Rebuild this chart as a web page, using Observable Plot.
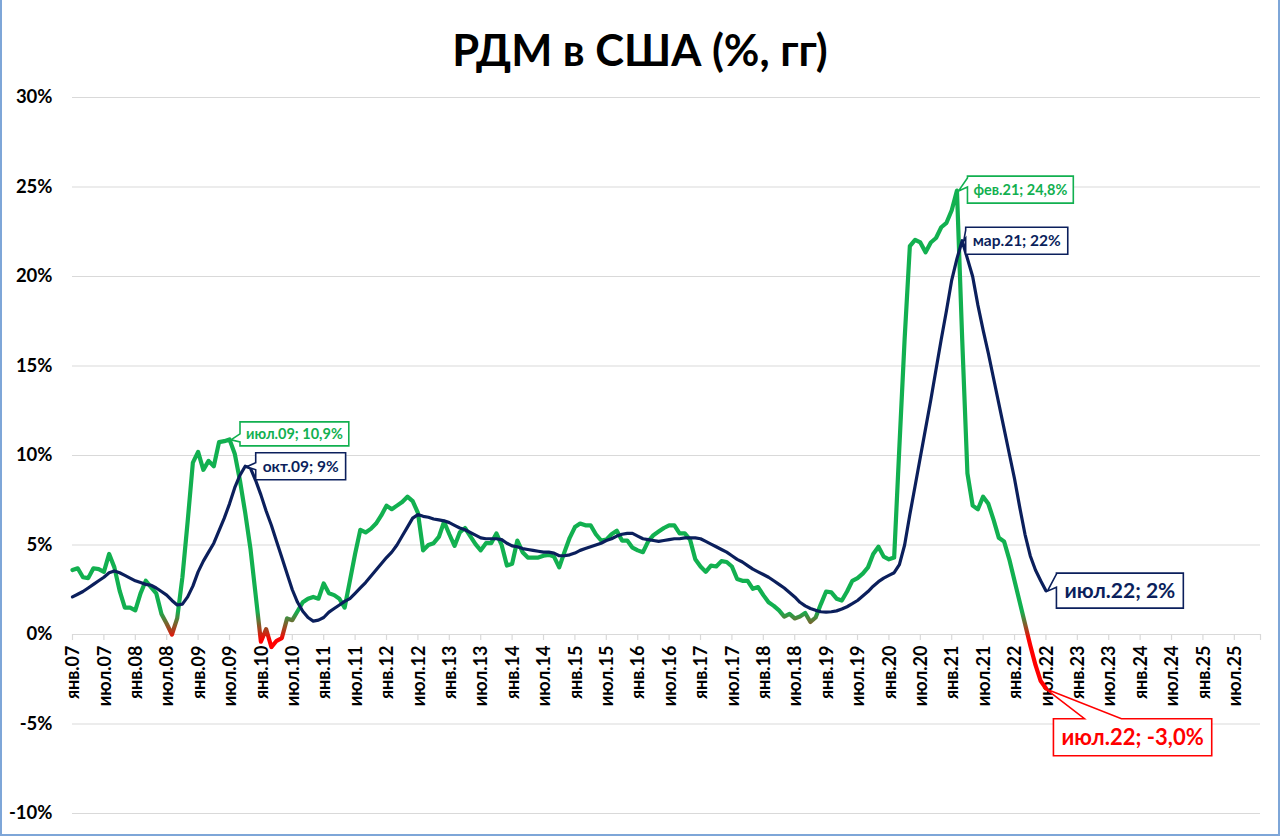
<!DOCTYPE html>
<html>
<head>
<meta charset="utf-8">
<script src="https://cdn.jsdelivr.net/npm/d3@7"></script>
<script src="https://cdn.jsdelivr.net/npm/@observablehq/plot@0.6"></script>
<style>
  html, body { margin: 0; padding: 0; background: #fff; }
  #chart {
    position: relative; width: 1280px; height: 836px; box-sizing: border-box;
    border: 2px solid #7ea6d8; border-top: none; background: #fff; overflow: hidden;
    font-family: Lato, "Open Sans", sans-serif;
  }
  #title {
    height: 80px; overflow: visible; text-align: center;
    font: bold 43.5px Lato, "Open Sans", sans-serif; line-height: 98px; color: #000;
  }
  #plot svg { display: block; }
</style>
</head>
<body>
<div id="chart">
  <div id="title">РДМ в США (%, гг)</div>
  <div id="plot"></div>
</div>
<script>
// ---- Data (monthly, starting янв.07) ----
const startYear = 2007;
const monthNames = ["янв","фев","мар","апр","май","июн","июл","авг","сен","окт","ноя","дек"];

// Green: M2 growth, % y/y (янв.07 … июл.22)
const m2Growth = [
  3.6, 3.7, 3.2, 3.15, 3.7, 3.65, 3.5, 4.5, 3.75, 2.45, 1.5, 1.5,
  1.35, 2.3, 3.0, 2.65, 2.3, 1.15, 0.6, 0.0, 0.9, 3.2, 6.3, 9.6,
  10.2, 9.2, 9.7, 9.4, 10.75, 10.8, 10.9, 10.1, 8.6, 6.8, 4.8, 2.2,
  -0.4, 0.3, -0.7, -0.35, -0.2, 0.9, 0.8, 1.3, 1.8, 2.0, 2.1, 2.0,
  2.85, 2.3, 2.2, 2.0, 1.5, 3.0, 4.5, 5.85, 5.7, 5.9, 6.2, 6.65,
  7.2, 7.0, 7.2, 7.4, 7.7, 7.45, 6.8, 4.7, 5.0, 5.1, 5.45, 6.3,
  5.6, 4.95, 5.7, 5.95, 5.5, 5.05, 4.7, 5.1, 5.1, 5.65, 5.0, 3.85,
  3.95, 5.25, 4.6, 4.3, 4.3, 4.3, 4.4, 4.45, 4.35, 3.75, 4.6, 5.4,
  6.0, 6.2, 6.1, 6.1, 5.6, 5.25, 5.3, 5.6, 5.8, 5.25, 5.25, 4.85,
  4.7, 4.6, 5.2, 5.55, 5.75, 5.95, 6.1, 6.1, 5.65, 5.65, 5.3, 4.2,
  3.8, 3.5, 3.85, 3.8, 4.1, 4.05, 3.8, 3.1, 3.0, 3.0, 2.55, 2.65,
  2.2, 1.8, 1.6, 1.35, 1.0, 1.15, 0.9, 1.0, 1.2, 0.7, 0.95, 1.7,
  2.4, 2.35, 2.0, 1.9, 2.4, 3.0, 3.15, 3.4, 3.75, 4.5, 4.9, 4.35,
  4.2, 4.3, 10.5, 16.5, 21.7, 22.05, 21.9, 21.35, 21.9, 22.15, 22.75, 23.0,
  23.7, 24.8, 16.5, 9.0, 7.2, 7.0, 7.7, 7.3, 6.4, 5.4, 5.2, 4.2,
  3.0, 1.8, 0.6, -0.6, -1.7, -2.6, -3.0
];

// Navy: smoothed M2 growth, %
const m2Smoothed = [
  2.1, 2.25, 2.4, 2.6, 2.8, 3.0, 3.2, 3.45, 3.55, 3.45, 3.3, 3.15,
  3.0, 2.9, 2.8, 2.75, 2.6, 2.4, 2.2, 1.9, 1.65, 1.7, 2.1, 2.7,
  3.5, 4.1, 4.6, 5.1, 5.8, 6.5, 7.3, 8.2, 8.9, 9.4, 9.3, 8.6,
  7.8, 6.9, 6.1, 5.2, 4.3, 3.4, 2.5, 1.8, 1.3, 0.95, 0.75, 0.8,
  0.95, 1.25, 1.45, 1.65, 1.85, 2.0, 2.3, 2.6, 2.9, 3.25, 3.6, 3.95,
  4.3, 4.6, 5.0, 5.5, 6.0, 6.5, 6.7, 6.6, 6.55, 6.45, 6.4, 6.35,
  6.25, 6.1, 5.95, 5.85, 5.7, 5.55, 5.4, 5.35, 5.35, 5.35, 5.3, 5.1,
  4.95, 4.9, 4.8, 4.75, 4.7, 4.65, 4.6, 4.6, 4.55, 4.4, 4.4, 4.45,
  4.55, 4.7, 4.8, 4.9, 5.0, 5.1, 5.25, 5.35, 5.5, 5.6, 5.65, 5.65,
  5.5, 5.35, 5.3, 5.25, 5.2, 5.25, 5.3, 5.35, 5.35, 5.4, 5.4, 5.4,
  5.35, 5.2, 5.05, 4.9, 4.75, 4.6, 4.4, 4.2, 4.05, 3.85, 3.65, 3.5,
  3.35, 3.2, 3.0, 2.8, 2.6, 2.35, 2.1, 1.8, 1.6, 1.45, 1.35, 1.27,
  1.25, 1.27, 1.32, 1.42, 1.55, 1.72, 1.9, 2.15, 2.4, 2.7, 2.95, 3.15,
  3.3, 3.45, 3.9, 5.0, 6.7, 8.3, 9.9, 11.5, 13.1, 14.8, 16.5, 18.1,
  19.8, 21.0, 22.0, 21.0, 20.0, 18.4, 17.0, 15.7, 14.3, 12.9, 11.5, 10.1,
  8.7, 7.1, 5.6, 4.4, 3.6, 3.0, 2.45
];

const axisMonths = 228;              // янв.07 … дек.25 on the category axis
const yTicks = [-10, -5, 0, 5, 10, 15, 20, 25, 30];

// Callout labels: month index, value, text, series
const callouts = [
  {m: 30,  v: 10.9, text: "июл.09; 10,9%", kind: "green"},
  {m: 33,  v: 9.4,  text: "окт.09; 9%",    kind: "navy"},
  {m: 169, v: 24.8, text: "фев.21; 24,8%", kind: "green"},
  {m: 170, v: 22.0, text: "мар.21; 22%",   kind: "navy"},
  {m: 186, v: 2.45, text: "июл.22; 2%",    kind: "navyBig"},
  {m: 186, v: -3.0, text: "июл.22; -3,0%", kind: "red"}
];

// ---- Styles ----
const GREEN = "#12b050", NAVY = "#0b1f5c", RED = "#ff0000";
const FONT = "Lato, 'Open Sans', sans-serif";
const calloutStyle = {
  green:   {color: GREEN, size: 14.5, bx: 11, by: -17, h: 24, wedge: "left", w1: 12, w2: 20, pad: 6},
  navy:    {color: NAVY,  size: 15.5, bx: 11, by: -13, h: 27, wedge: "left", w1: 10, w2: 17, pad: 7},
  navyBig: {color: NAVY,  size: 21,   bx: 11, by: -17, h: 35, wedge: "left", w1: 1,  w2: 14, pad: 8},
  red:     {color: RED,   size: 22,   bx: 8,  by: 31,  h: 37, wedge: "top",  w1: 31, w2: 68, pad: 8}
};
const calloutOverride = { "фев.21; 24,8%": {by: -14, h: 27, w1: 2, w2: 11}, "мар.21; 22%": {bx: 4, w1: 3, w2: 11} };

const series1 = m2Growth.map((v, i) => ({m: i, v}));
const series2 = m2Smoothed.map((v, i) => ({m: i, v}));
const xTicks = d3.range(0, axisMonths - 5, 6);
const fmtMonth = (i) => monthNames[i % 12] + "." + String((startYear + Math.floor(i / 12)) % 100).padStart(2, "0");

const measureCtx = document.createElement("canvas").getContext("2d");

const gradientDefs = (index, {y}) => {
  const defs = d3.create("svg:defs");
  const lg = defs.append("linearGradient").attr("id", "m2grad")
    .attr("gradientUnits", "userSpaceOnUse")
    .attr("x1", 0).attr("x2", 0).attr("y1", y(1.3)).attr("y2", y(-0.3));
  lg.append("stop").attr("offset", "0%").attr("stop-color", GREEN);
  lg.append("stop").attr("offset", "100%").attr("stop-color", RED);
  return defs.node();
};

const calloutMark = (index, {x, y}) => {
  const g = d3.create("svg:g");
  for (const c of callouts) {
    const st = Object.assign({}, calloutStyle[c.kind], calloutOverride[c.text] || {});
    const px = x(c.m), py = y(c.v);
    measureCtx.font = `bold ${st.size}px ${FONT}`;
    const tw = measureCtx.measureText(c.text).width;
    const pad = st.pad;
    const L = px + st.bx, T = py + st.by, W = tw + 2 * pad, H = st.h, R = L + W, B = T + H;
    let pts;
    if (st.wedge === "left") {
      const ax = px + 2, ay = py + 1;
      pts = [[L, T], [R, T], [R, B], [L, B], [L, T + st.w2], [ax, ay], [L, T + st.w1]];
    } else {
      const ax = px, ay = py + 1;
      pts = [[L, T], [L + st.w1, T], [ax, ay], [L + st.w2, T], [R, T], [R, B], [L, B]];
    }
    g.append("path").attr("d", "M" + pts.map(p => p.join(",")).join("L") + "Z")
      .attr("fill", "#fff").attr("stroke", st.color).attr("stroke-width", 1.6)
      .attr("stroke-linejoin", "miter");
    g.append("text").attr("x", L + pad).attr("y", T + H / 2)
      .attr("dy", "0.36em").attr("text-anchor", "start")
      .attr("fill", st.color).attr("font-family", FONT).attr("font-weight", "bold")
      .attr("font-size", st.size).text(c.text);
  }
  return g.node();
};

const plot = Plot.plot({
  width: 1276,
  height: 754,
  marginLeft: 70,
  marginRight: 18,
  marginTop: 17,
  marginBottom: 21,
  style: {fontFamily: FONT, background: "#fff", color: "#000"},
  x: {type: "linear", domain: [0, axisMonths - 1], axis: null},
  y: {domain: [-10, 30], axis: null},
  marks: [
    gradientDefs,
    Plot.ruleY(yTicks, {stroke: "#d9d9d9", strokeWidth: 1.2}),
    Plot.ruleX(xTicks.concat([axisMonths - 1]), {x: d => d, y1: 0, y2: 0, insetBottom: -6, stroke: "#d9d9d9", strokeWidth: 1.2}),
    Plot.text(yTicks, {y: d => d, text: d => d + "%", frameAnchor: "left", textAnchor: "end", dx: -20,
      fontSize: 18.5, fontWeight: "bold", fill: "#000"}),
    Plot.text(xTicks, {x: d => d, y: 0, text: fmtMonth, rotate: -90, textAnchor: "end", dy: 11, dx: 1,
      fontSize: 18, fontWeight: "bold", fill: "#000"}),
    Plot.line(series1, {x: "m", y: "v", stroke: "url(#m2grad)", strokeWidth: 4.2, strokeLinejoin: "round", strokeLinecap: "round"}),
    Plot.line(series2, {x: "m", y: "v", stroke: NAVY, strokeWidth: 3.2, strokeLinejoin: "round", strokeLinecap: "round"}),
    calloutMark
  ]
});
document.getElementById("plot").appendChild(plot);
</script>
</body>
</html>
